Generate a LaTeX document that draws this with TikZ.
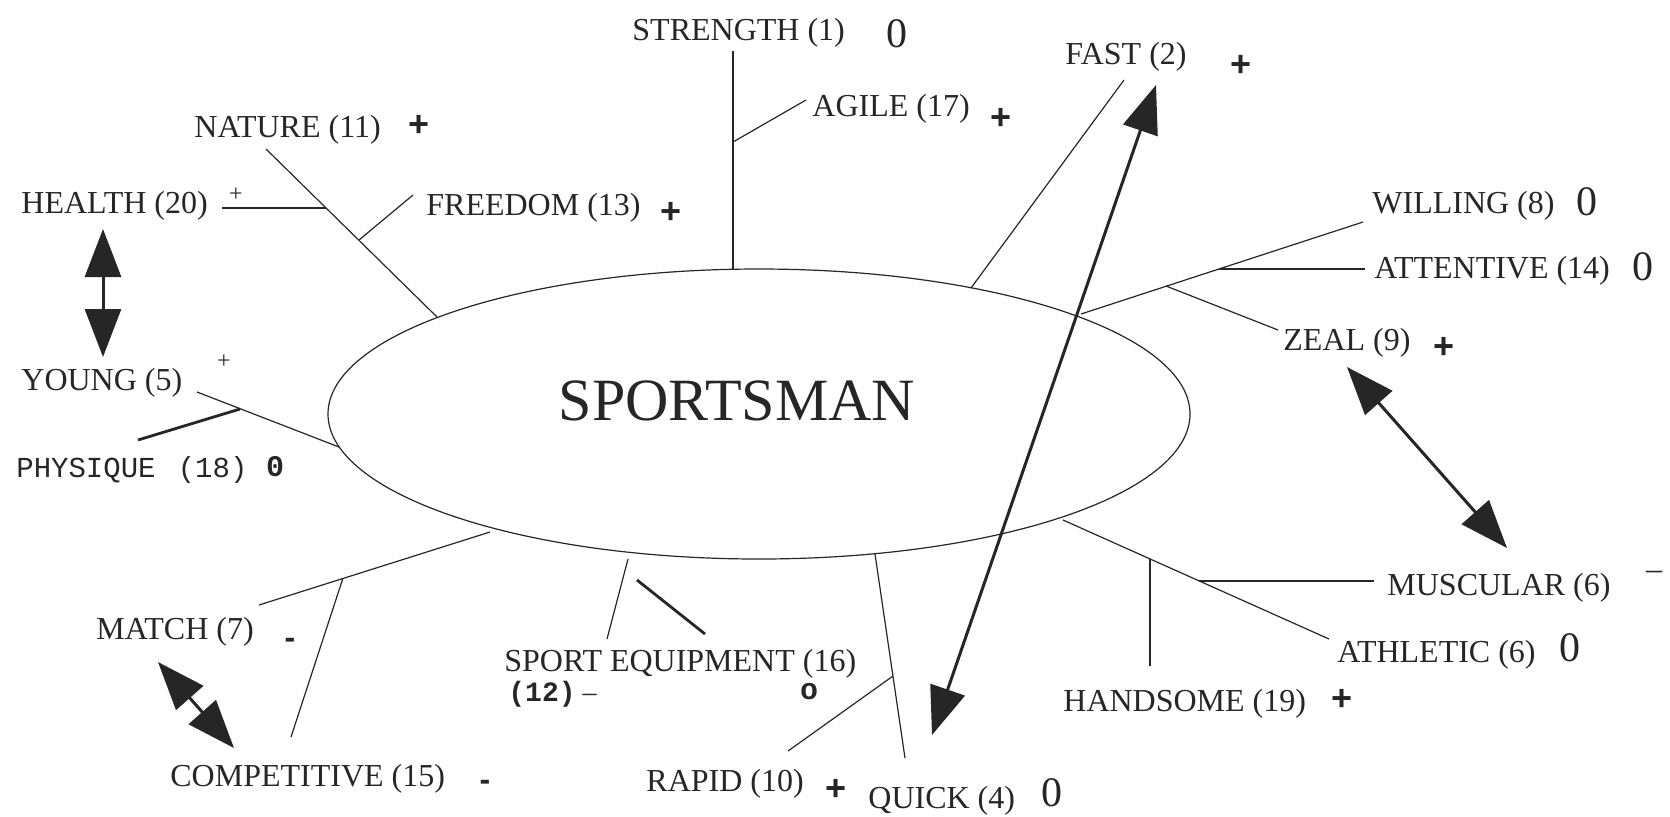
\documentclass[tikz,border=0pt]{standalone}
\usepackage{fontspec}
\setmainfont{Liberation Serif}
\newfontfamily\monof{Liberation Mono}
\newfontfamily\sansf{Liberation Sans}
\usetikzlibrary{arrows.meta,shapes.geometric}
\begin{document}
\begin{tikzpicture}[x=0.5pt,y=-0.5pt,
  lbl/.style={anchor=base west, inner sep=0, text=black!85, font=\fontsize{16}{18}\selectfont},
  zero/.style={inner sep=0, text=black!85, font=\fontsize{21}{24}\selectfont},
  plus/.style={inner sep=0, text=black!85, font=\sansf\bfseries\fontsize{18}{20}\selectfont},
  smallplus/.style={inner sep=0, text=black!85, font=\fontsize{12}{14}\selectfont},
  thinline/.style={line width=0.6pt, draw=black!85},
  heavyline/.style={line width=1.4pt, draw=black!85},
  dbl/.style={line width=1.5pt, draw=black!85, fill=black!85,
    {Triangle[length=24pt,width=18pt]}-{Triangle[length=24pt,width=18pt]}}
]
\useasboundingbox (0,0) rectangle (1670,816);

% central ellipse
\node[draw, thinline, ellipse, minimum width=431pt, minimum height=145pt, inner sep=0] (sp) at (759,414) {};
\node[inner sep=0, text=black!85, font=\fontsize{30}{34}\selectfont] (spt) at (737,401) {SPORTSMAN};

% labels
\node[lbl] (strength) at (632,40) {STRENGTH (1)};
\node[zero] (strength0) at (897,34) {0};
\node[lbl] (agile) at (812,116) {AGILE (17)};
\node[plus] (agilep) at (1001,119) {+};
\node[lbl] (fast) at (1065,64) {FAST (2)};
\node[plus] (fastp) at (1241,66) {+};
\node[lbl] (nature) at (194,137) {NATURE (11)};
\node[plus] (naturep) at (419,126) {+};
\node[lbl] (health) at (21,213) {HEALTH (20)};
\node[smallplus] (healthp) at (236,195) {+};
\node[lbl] (freedom) at (426,215) {FREEDOM (13)};
\node[plus] (freedomp) at (671,213) {+};
\node[lbl] (willing) at (1372,213) {WILLING (8)};
\node[zero] (willing0) at (1587,202) {0};
\node[lbl] (attentive) at (1374,278) {ATTENTIVE (14)};
\node[zero] (attentive0) at (1643,267) {0};
\node[lbl] (zeal) at (1283,350) {ZEAL (9)};
\node[plus] (zealp) at (1444,348) {+};
\node[lbl] (young) at (21,390) {YOUNG (5)};
\node[smallplus] (youngp) at (224,362) {+};
\node[anchor=base west, inner sep=0, text=black!85, font=\monof\fontsize{14.5}{16}\selectfont] (physique) at (16,477) {PHYSIQUE~\,(18)};
\node[inner sep=0, text=black!85, font=\monof\bfseries\fontsize{15}{16}\selectfont] (physique0) at (275,467) {0};
\node[lbl] (match) at (96,639) {MATCH (7)};
\node[inner sep=0, text=black!85, font=\sansf\bfseries\fontsize{16}{18}\selectfont] (matchm) at (290,643) {-};
\node[lbl] (competitive) at (170,786) {COMPETITIVE (15)};
\node[inner sep=0, text=black!85, font=\sansf\bfseries\fontsize{16}{18}\selectfont] (competitivem) at (485,785) {-};
\node[lbl] (equip) at (504,671) {SPORT EQUIPMENT (16)};
\node[anchor=base west, inner sep=0, text=black!85, font=\fontsize{14}{15}\selectfont] (equip12) at (508,701) {{\monof\bfseries (12)} –};
\node[inner sep=0, text=black!85, font=\monof\bfseries\fontsize{15}{16}\selectfont] (equipo) at (809,692) {o};
\node[lbl] (rapid) at (646,791) {RAPID (10)};
\node[plus] (rapidp) at (836,790) {+};
\node[lbl] (quick) at (868,808) {QUICK (4)};
\node[zero] (quick0) at (1052,793) {0};
\node[lbl] (handsome) at (1063,711) {HANDSOME (19)};
\node[plus] (handsomep) at (1342,700) {+};
\node[lbl] (muscular) at (1387,595) {MUSCULAR (6)};
\node[inner sep=0, text=black!85, font=\fontsize{16}{18}\selectfont] (muscularm) at (1654,575) {–};
\node[lbl] (athletic) at (1337,662) {ATHLETIC (6)};
\node[zero] (athletic0) at (1570,648) {0};

% junction coordinates
\coordinate (strB) at (733,269); \coordinate (strT) at (733,51);
\coordinate (agJ) at (733,142); \coordinate (agE) at (806,100);
\coordinate (fastB) at (971,288); \coordinate (fastT) at (1124,80);
\coordinate (natT) at (266,149); \coordinate (natB) at (437,317);
\coordinate (heJ) at (326,208); \coordinate (heE) at (222,208);
\coordinate (frJ) at (359,240); \coordinate (frE) at (413,195);
\coordinate (yoE) at (197,392); \coordinate (yoB) at (339,447);
\coordinate (phJ) at (240,409); \coordinate (phE) at (138,440);
\coordinate (wiB) at (1081,314); \coordinate (wiE) at (1363,222);
\coordinate (atJ) at (1219,269); \coordinate (atE) at (1365,269);
\coordinate (zeJ) at (1166,286); \coordinate (zeE) at (1278,330);
\coordinate (muB) at (1063,520); \coordinate (athE) at (1329,639);
\coordinate (haJ) at (1150,559); \coordinate (haE) at (1150,666);
\coordinate (muJ) at (1199,581); \coordinate (muE) at (1374,581);
\coordinate (quB) at (875,554); \coordinate (quE) at (905,758);
\coordinate (raJ) at (893,676); \coordinate (raE) at (788,751);
\coordinate (seB) at (628,559); \coordinate (seE) at (607,639);
\coordinate (seT1) at (637,580); \coordinate (seT2) at (705,634);
\coordinate (maB) at (490,532); \coordinate (maE) at (259,605);
\coordinate (coJ) at (343,578); \coordinate (coE) at (291,737);
\coordinate (a1) at (103,229); \coordinate (a2) at (103,357);
\coordinate (b1) at (1156,85); \coordinate (b2) at (932,735);
\coordinate (c1) at (1347,367); \coordinate (c2) at (1507,548);
\coordinate (d1) at (158,662); \coordinate (d2) at (234,748);

% thin connectors
\draw[thinline] (strB) -- (strT);
\draw[thinline] (agJ) -- (agE);
\draw[thinline] (fastB) -- (fastT);
\draw[thinline] (natT) -- (natB);
\draw[thinline] (heJ) -- (heE);
\draw[thinline] (frJ) -- (frE);
\draw[thinline] (yoE) -- (yoB);
\draw[heavyline] (phJ) -- (phE);
\draw[thinline] (wiB) -- (wiE);
\draw[thinline] (atJ) -- (atE);
\draw[thinline] (zeJ) -- (zeE);
\draw[thinline] (muB) -- (athE);
\draw[thinline] (haJ) -- (haE);
\draw[thinline] (muJ) -- (muE);
\draw[thinline] (quB) -- (quE);
\draw[thinline] (raJ) -- (raE);
\draw[thinline] (seB) -- (seE);
\draw[heavyline] (seT1) -- (seT2);
\draw[thinline] (maB) -- (maE);
\draw[thinline] (coJ) -- (coE);

% double arrows
\draw[dbl] (a1) -- (a2);
\draw[dbl] (b1) -- (b2);
\draw[dbl] (c1) -- (c2);
\draw[dbl] (d1) -- (d2);
\end{tikzpicture}
\end{document}
